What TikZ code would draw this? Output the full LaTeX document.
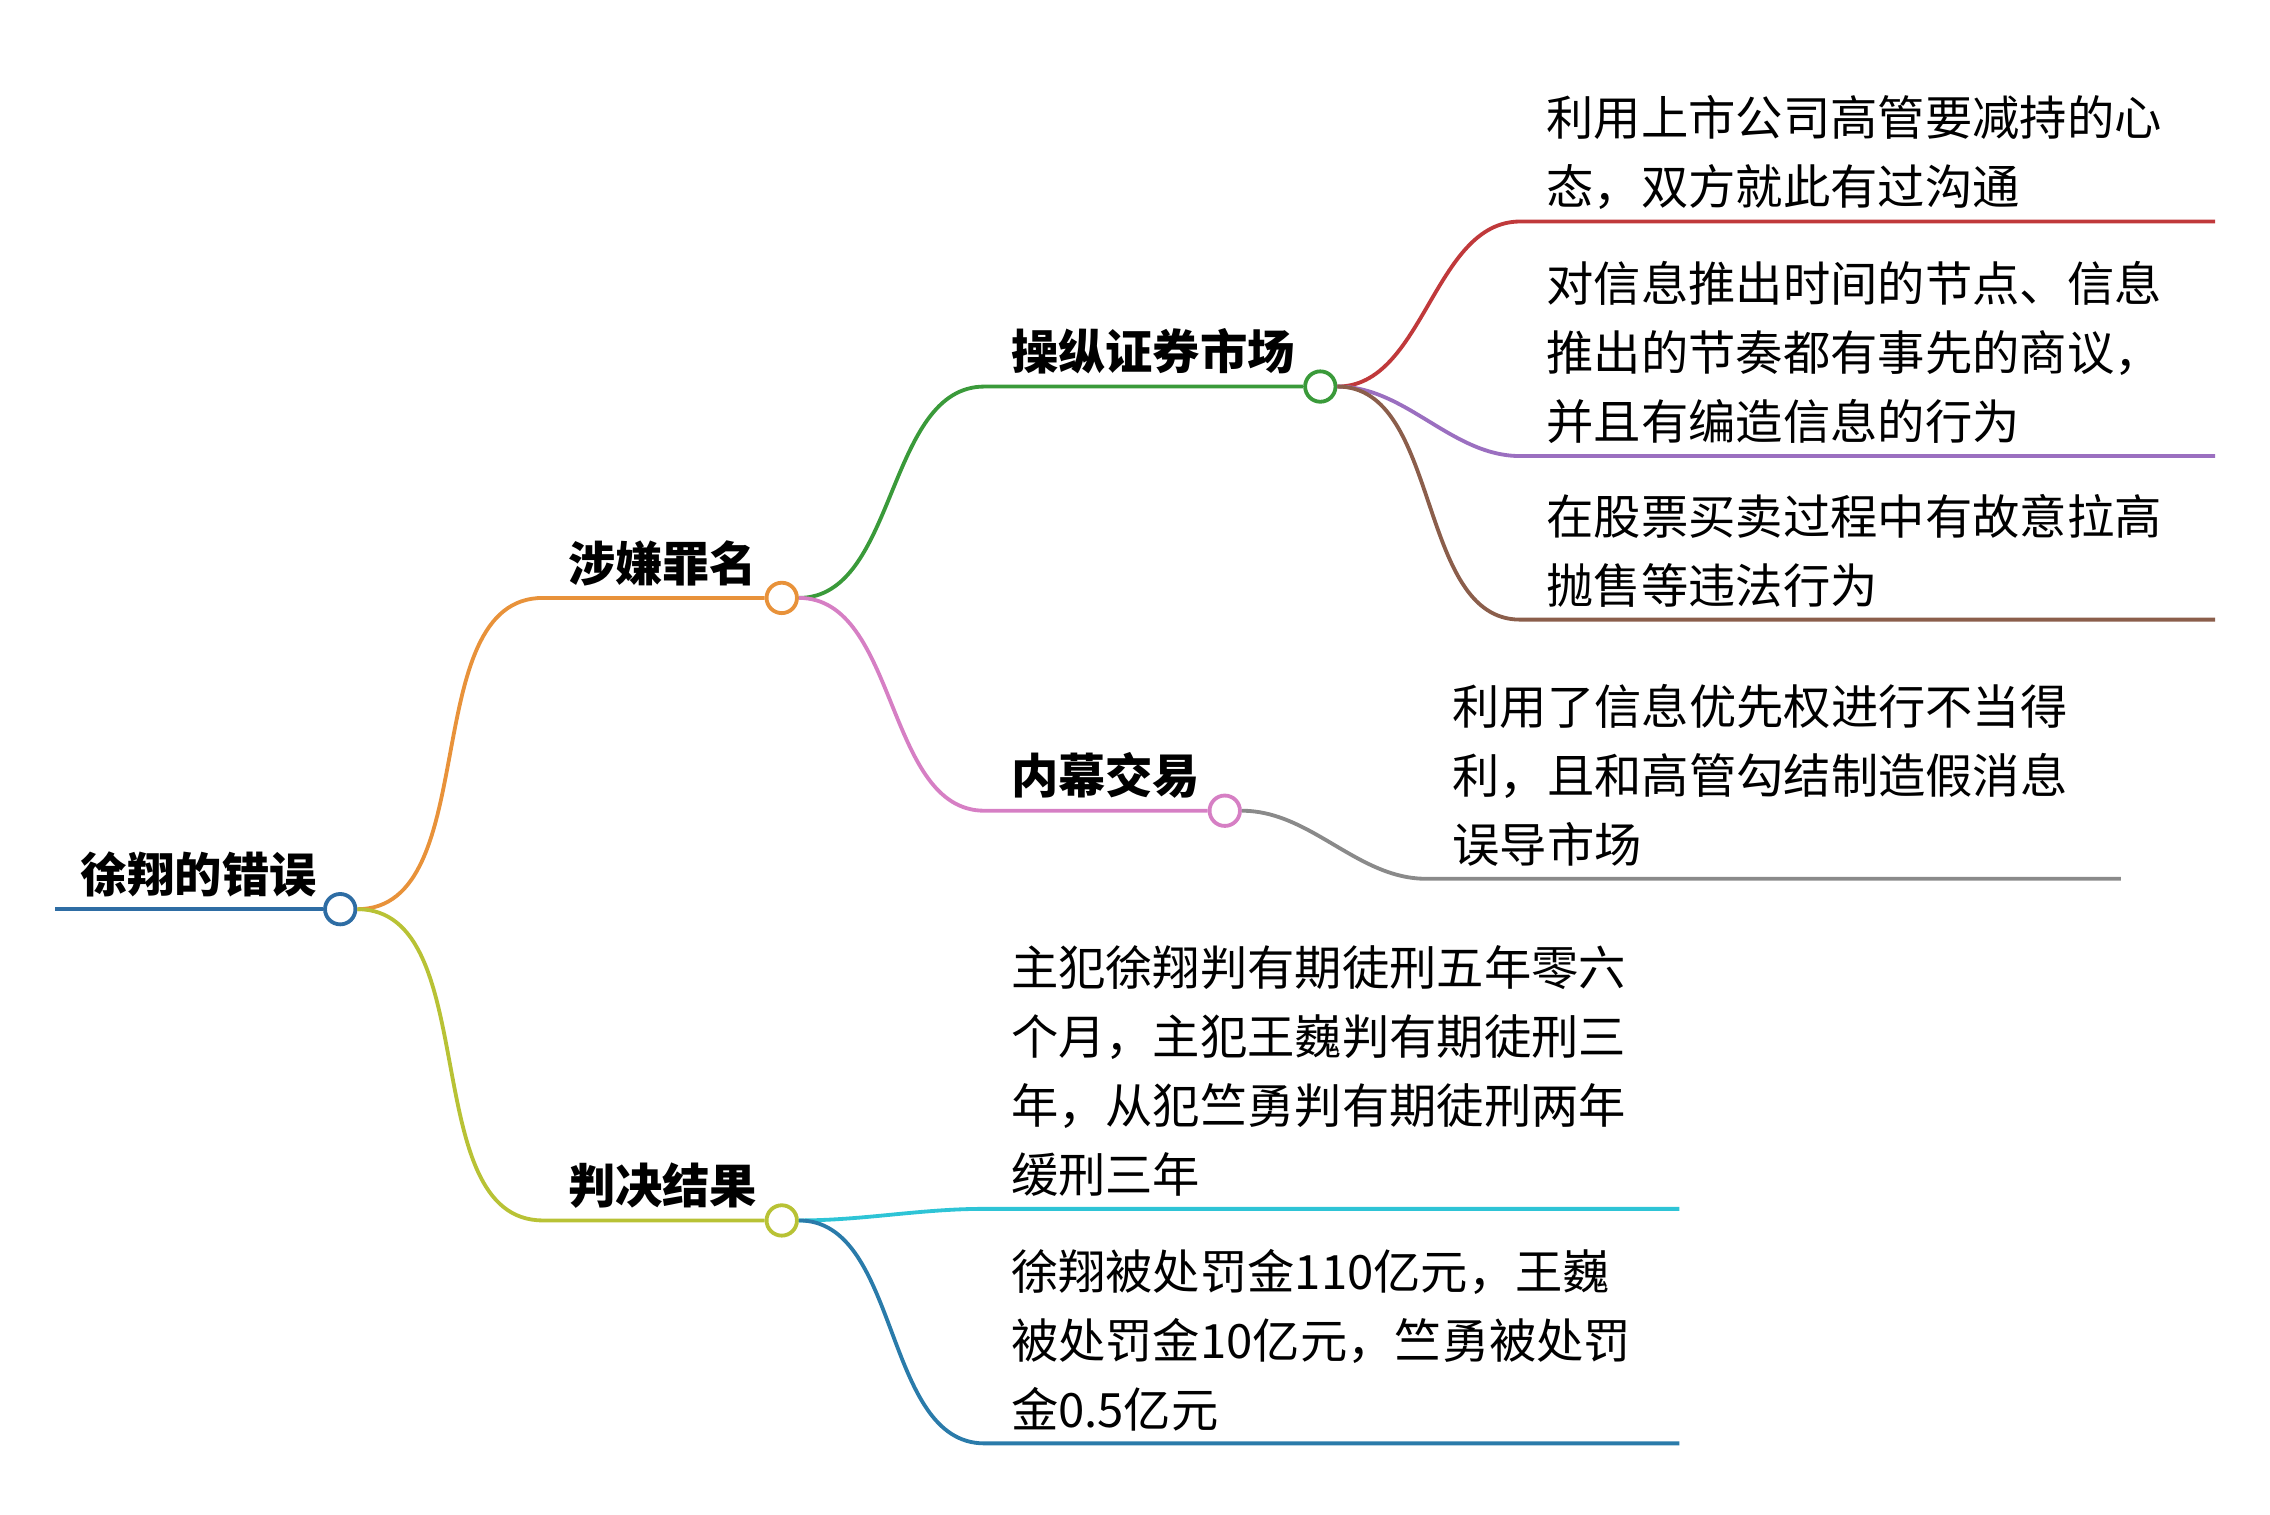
\documentclass[tikz,border=0pt]{standalone}
\usepackage{fontspec}
\setmainfont{Noto Sans CJK SC}
\usetikzlibrary{positioning}
\definecolor{cRoot}{HTML}{2E6DA4}
\definecolor{cOrange}{HTML}{E8923A}
\definecolor{cOlive}{HTML}{B8C235}
\definecolor{cGreen}{HTML}{3A9A3A}
\definecolor{cPink}{HTML}{D67FC4}
\definecolor{cRed}{HTML}{C0393B}
\definecolor{cPurple}{HTML}{9B6FC0}
\definecolor{cBrown}{HTML}{8B5E4B}
\definecolor{cGray}{HTML}{8A8A8A}
\definecolor{cCyan}{HTML}{2EC4D6}
\definecolor{cBlue}{HTML}{2A7BAA}
\tikzset{
  knob/.style={circle,draw=#1,fill=white,line width=1.5pt,minimum size=0.42cm,inner sep=0pt},
  edge/.style={draw=#1,line width=1.5pt},
  topic/.style={font=\fontsize{18.6}{27}\selectfont\bfseries,anchor=south west,inner sep=0pt},
  leaf/.style={font=\fontsize{18.6}{27.2}\selectfont,anchor=south west,inner sep=0pt,align=left}
}
\begin{document}
\begin{tikzpicture}[x=0.02cm,y=-0.02cm]
  \useasboundingbox (0,0) rectangle (1568,1046);

  %% root
  \coordinate (rootL) at (38,628);
  \node[knob=cRoot] (root) at (235,628) {};
  \draw[edge=cRoot] (rootL) -- (root);
  \node[topic] (rootT) at (55,620) {徐翔的错误};

  %% first level
  \node[knob=cOrange] (crime) at (540,413) {};
  \node[knob=cOlive] (verdict) at (540,843) {};
  \coordinate (crimeL) at (375,413);
  \coordinate (verdictL) at (375,843);
  \draw[edge=cOrange] (root.east) to[out=0,in=180,looseness=0.9] (crimeL) -- (crime);
  \draw[edge=cOlive] (root.east) to[out=0,in=180,looseness=0.9] (verdictL) -- (verdict);
  \node[topic] (crimeT) at (392,405) {涉嫌罪名};
  \node[topic] (verdictT) at (392,835) {判决结果};

  %% second level
  \node[knob=cGreen] (manip) at (912,267) {};
  \node[knob=cPink] (insider) at (846,560) {};
  \coordinate (manipL) at (680,267);
  \coordinate (insiderL) at (680,560);
  \draw[edge=cGreen] (crime.east) to[out=0,in=180,looseness=0.9] (manipL) -- (manip);
  \draw[edge=cPink] (crime.east) to[out=0,in=180,looseness=0.9] (insiderL) -- (insider);
  \node[topic] (manipT) at (698,259) {操纵证券市场};
  \node[topic] (insiderT) at (698,552) {内幕交易};

  %% leaves of manip
  \coordinate (m1a) at (1050,153); \coordinate (m1b) at (1530,153);
  \coordinate (m2a) at (1050,315); \coordinate (m2b) at (1530,315);
  \coordinate (m3a) at (1050,428); \coordinate (m3b) at (1530,428);
  \draw[edge=cRed] (manip.east) to[out=0,in=180,looseness=0.9] (m1a) -- (m1b);
  \draw[edge=cPurple] (manip.east) to[out=0,in=180,looseness=0.9] (m2a) -- (m2b);
  \draw[edge=cBrown] (manip.east) to[out=0,in=180,looseness=0.9] (m3a) -- (m3b);
  \node[leaf] (m1) at (1068,145) {利用上市公司高管要减持的心\\态，双方就此有过沟通};
  \node[leaf] (m2) at (1068,307) {对信息推出时间的节点、信息\\推出的节奏都有事先的商议，\\并且有编造信息的行为};
  \node[leaf] (m3) at (1068,420) {在股票买卖过程中有故意拉高\\抛售等违法行为};

  %% leaf of insider
  \coordinate (i1a) at (985,607); \coordinate (i1b) at (1465,607);
  \draw[edge=cGray] (insider.east) to[out=0,in=180,looseness=0.9] (i1a) -- (i1b);
  \node[leaf] (i1) at (1003,599) {利用了信息优先权进行不当得\\利，且和高管勾结制造假消息\\误导市场};

  %% leaves of verdict
  \coordinate (v1a) at (680,835); \coordinate (v1b) at (1160,835);
  \coordinate (v2a) at (680,997); \coordinate (v2b) at (1160,997);
  \draw[edge=cCyan] (verdict.east) to[out=0,in=180,looseness=0.9] (v1a) -- (v1b);
  \draw[edge=cBlue] (verdict.east) to[out=0,in=180,looseness=0.9] (v2a) -- (v2b);
  \node[leaf] (v1) at (698,827) {主犯徐翔判有期徒刑五年零六\\个月，主犯王巍判有期徒刑三\\年，从犯竺勇判有期徒刑两年\\缓刑三年};
  \node[leaf] (v2) at (698,989) {徐翔被处罚金110亿元，王巍\\被处罚金10亿元，竺勇被处罚\\金0.5亿元};
\end{tikzpicture}
\end{document}
